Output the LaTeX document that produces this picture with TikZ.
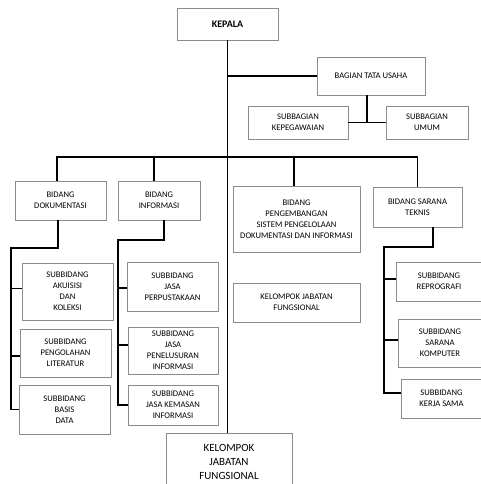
\documentclass[tikz,border=0pt]{standalone}
\usepackage{fontspec}
\setmainfont{Carlito}
\usetikzlibrary{calc}

\begin{document}
\begin{tikzpicture}[x=1pt, y=-1pt, line width=1.3pt]
\tikzstyle{kotak}=[draw=black!45, line width=0.8pt, rectangle, align=center, inner sep=1pt, font=\fontsize{8.6}{11}\selectfont]
\useasboundingbox (0,0) rectangle (481,484);

% pimpinan
\node[kotak, minimum width=101, minimum height=32, font=\fontsize{10}{12}\bfseries] (kepala) at (227.5,24) {KEPALA};
\node[kotak, minimum width=108, minimum height=38] (tatausaha) at (371,76) {BAGIAN TATA USAHA};
\node[kotak, minimum width=100, minimum height=33] (kepeg) at (298,122.5) {SUBBAGIAN\\KEPEGAWAIAN};
\node[kotak, minimum width=82,  minimum height=33] (umum)  at (427,122.5) {SUBBAGIAN\\UMUM};

% bidang
\node[kotak, minimum width=91,  minimum height=39] (dok)     at (60.5,200.5) {BIDANG\\DOKUMENTASI};
\node[kotak, minimum width=82,  minimum height=39] (inf)     at (159,200.5)  {BIDANG\\INFORMASI};
\node[kotak, minimum width=127, minimum height=66] (pengemb) at (296.5,219)  {BIDANG\\PENGEMBANGAN\\SISTEM PENGELOLAAN\\DOKUMENTASI DAN INFORMASI};
\node[kotak, minimum width=89,  minimum height=40] (sarana)  at (417.5,207)  {BIDANG SARANA\\TEKNIS};

% subbidang dokumentasi
\node[kotak, minimum width=91, minimum height=57] (akuisisi)   at (67.5,291.5) {SUBBIDANG\\AKUISISI\\DAN\\KOLEKSI};
\node[kotak, minimum width=91, minimum height=48] (pengolahan) at (65.5,353)   {SUBBIDANG\\PENGOLAHAN\\LITERATUR};
\node[kotak, minimum width=91, minimum height=49] (basis)      at (64.5,409.5) {SUBBIDANG\\BASIS\\DATA};

% subbidang informasi
\node[kotak, minimum width=91, minimum height=49] (perpus)      at (172.5,286.5) {SUBBIDANG\\JASA\\PERPUSTAKAAN};
\node[kotak, minimum width=90, minimum height=47] (penelusuran) at (173,350.5)   {SUBBIDANG\\JASA\\PENELUSURAN\\INFORMASI};
\node[kotak, minimum width=90, minimum height=40] (kemasan)     at (173,405)     {SUBBIDANG\\JASA KEMASAN\\INFORMASI};

% subbidang sarana teknis
\node[kotak, minimum width=86, minimum height=39] (reprografi) at (439,281.5) {SUBBIDANG\\REPROGRAFI};
\node[kotak, minimum width=84, minimum height=48] (komputer)   at (440,343)   {SUBBIDANG\\SARANA\\KOMPUTER};
\node[kotak, minimum width=81, minimum height=39] (kerjasama)  at (441.5,398.5) {SUBBIDANG\\KERJA SAMA};

% kelompok jabatan fungsional
\node[kotak, minimum width=127, minimum height=39] (jabfung)  at (296.5,302.5) {KELOMPOK JABATAN\\FUNGSIONAL};
\node[kotak, minimum width=126, minimum height=57, font=\fontsize{11}{14}\selectfont] (jabfung2) at (229,461.5) {KELOMPOK\\JABATAN\\FUNGSIONAL};

\coordinate (bus)     at (0,157);
\coordinate (dokrail) at (11,248);
\coordinate (infrail) at (118,240);
\coordinate (sarrail) at (384,247);

% garis komando
\draw (kepala.south) -- (kepala.south |- jabfung2.north);
\draw (kepala.south |- tatausaha.west) -- (tatausaha.west);
\draw ([xshift=-4pt]tatausaha.south) -- ([xshift=-4pt]tatausaha.south |- kepeg.east);
\draw (kepeg.east) -- (umum.west);

\draw ([xshift=-3.5pt]dok.north) |- (sarana.north |- bus) -- (sarana.north);
\draw ([xshift=-5pt]inf.north) -- ([xshift=-5pt]inf.north |- bus);
\draw ([xshift=-2.5pt]pengemb.north) -- ([xshift=-2.5pt]pengemb.north |- bus);

\draw ([xshift=-2.5pt]dok.south) |- (dokrail) -- (dokrail |- basis.west) -- (basis.west);
\draw ([yshift=3pt]dokrail |- akuisisi.west) -- ([yshift=3pt]akuisisi.west);
\draw ([yshift=-3pt]dokrail |- pengolahan.west) -- ([yshift=-3pt]pengolahan.west);

\draw ([xshift=5pt]inf.south) |- (infrail) -- (infrail |- kemasan.west) -- (kemasan.west);
\draw ([yshift=-1.5pt]infrail |- perpus.west) -- ([yshift=-1.5pt]perpus.west);
\draw ([yshift=5.5pt]infrail |- penelusuran.west) -- ([yshift=5.5pt]penelusuran.west);

\draw ([xshift=15.5pt]sarana.south) |- (sarrail) -- ([yshift=5.5pt]sarrail |- kerjasama.west) -- ([yshift=5.5pt]kerjasama.west);
\draw ([yshift=2.5pt]sarrail |- reprografi.west) -- ([yshift=2.5pt]reprografi.west);
\draw ([yshift=3pt]sarrail |- komputer.west) -- ([yshift=3pt]komputer.west);

\end{tikzpicture}
\end{document}
